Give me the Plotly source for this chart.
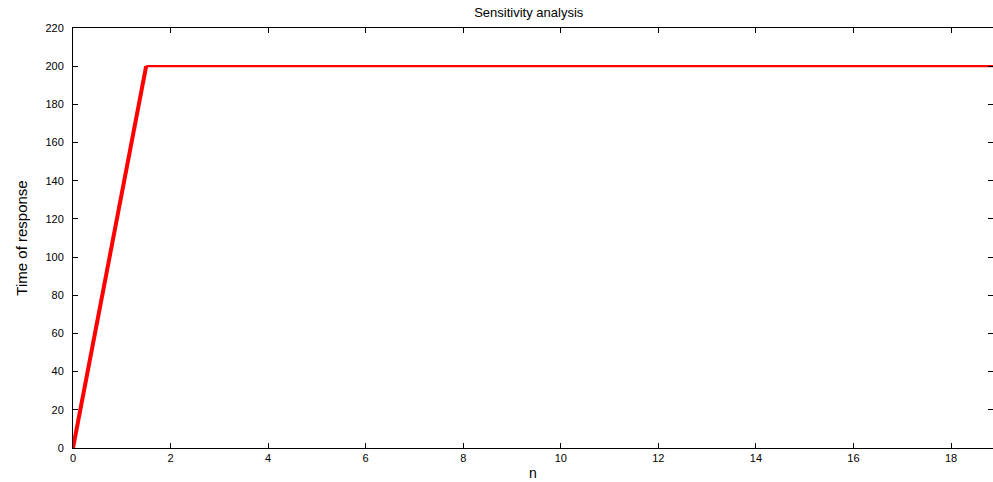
import plotly.graph_objects as go

# data
n_values = [0, 1.5, 19]
response_time = [0, 200, 200]
x_ticks = [0, 2, 4, 6, 8, 10, 12, 14, 16, 18]
y_ticks = [0, 20, 40, 60, 80, 100, 120, 140, 160, 180, 200, 220]

fig = go.Figure()
# ramp drawn thicker (as in the reference), plateau thinner
fig.add_trace(go.Scatter(x=n_values[:2], y=response_time[:2], mode="lines",
                         line=dict(color="#ff0000", width=4), showlegend=False))
fig.add_trace(go.Scatter(x=n_values[1:], y=response_time[1:], mode="lines",
                         line=dict(color="#ff0000", width=2.2), showlegend=False))
# invisible trace to anchor the right-hand tick axis
fig.add_trace(go.Scatter(x=n_values, y=response_time, yaxis="y2", mode="lines",
                         line=dict(color="rgba(0,0,0,0)", width=0), showlegend=False,
                         hoverinfo="skip"))

font_main = "Liberation Sans, Arial, sans-serif"
fig.update_layout(
    width=993, height=482,
    margin=dict(l=73, r=0, t=28, b=34),
    paper_bgcolor="white", plot_bgcolor="white",
    font=dict(family=font_main, color="black", size=11),
    title=dict(text="Sensitivity analysis", x=0.5325, xanchor="center",
               y=0.975, yanchor="middle",
               font=dict(size=13, family=font_main, color="black")),
    yaxis2=dict(overlaying="y", side="right", matches="y", range=[0, 220],
                tickvals=y_ticks, showticklabels=False, ticks="inside", ticklen=5,
                tickcolor="black", tickwidth=1, showline=False, showgrid=False,
                zeroline=False),
)
fig.update_xaxes(range=[0, 18.86], tickvals=x_ticks, ticktext=[str(v) for v in x_ticks],
                 ticks="inside", ticklen=5, tickcolor="black", tickwidth=1,
                 showline=True, linecolor="black", linewidth=1, mirror="ticks",
                 showgrid=False, zeroline=False,
                 title=dict(text="n", font=dict(size=14, family=font_main), standoff=4),
                 tickfont=dict(size=11, family=font_main))
fig.update_layout(yaxis=dict(range=[0, 220], tickvals=y_ticks, ticktext=[str(v) for v in y_ticks],
                 ticks="inside", ticklen=5, tickcolor="black", tickwidth=1,
                 showline=True, linecolor="black", linewidth=1, mirror=False,
                 showgrid=False, zeroline=False, ticklabelstandoff=6,
                 title=dict(text="Time of response",
                            font=dict(size=15, family="Liberation Sans Narrow, Liberation Sans, Arial"),
                            standoff=14),
                 tickfont=dict(size=11, family=font_main)))

fig.write_html("out.html")
